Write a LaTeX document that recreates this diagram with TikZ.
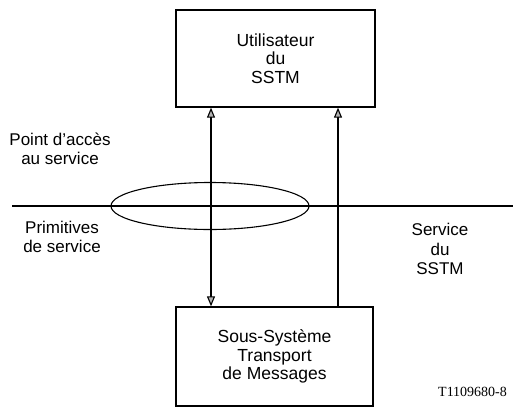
\documentclass[tikz,border=0pt]{standalone}
\usepackage{fontspec}
\setmainfont{Liberation Sans}
\newfontfamily\serifid{Liberation Serif}
\usetikzlibrary{arrows.meta,shapes.geometric}
\begin{document}
\begin{tikzpicture}[x=1pt,y=-1pt,
  box/.style={draw,line width=1.3pt,minimum width=199pt,minimum height=97pt,inner sep=0pt,align=center,
    font=\fontsize{17.5}{18.6}\selectfont},
  lbl/.style={align=center,inner sep=0pt,font=\fontsize{17}{19.5}\selectfont},
  tip/.style={line width=1.1pt},
  hd/.tip={Triangle[length=10pt,width=8pt,fill=gray!60,line width=1.1pt]}]
\useasboundingbox (0,0) rectangle (513,410);
\node[box] (usr) at (275.5,58.5) {Utilisateur\\du\\SSTM};
\node[box,minimum width=197pt,minimum height=99pt] (stm) at (274.5,356.5) {Sous-Syst\`eme\\Transport\\de Messages};
\coordinate (lw) at (12,206);
\coordinate (le) at (513,206);
\draw[line width=1.1pt] (lw) -- (le);
\node[draw,ellipse,line width=1.1pt,minimum width=198pt,minimum height=47pt,inner sep=0pt] (pas) at (210,206) {};
\draw[tip,{hd}-{hd}] (usr.south -| 211,0) -- (stm.north -| 211,0);
\draw[tip,-{hd}] (stm.north -| 338,0) -- (usr.south -| 338,0);
\node[lbl] (pa) at (60,149) {Point d'acc\`es\\au service};
\node[lbl] (ps) at (62,237) {Primitives\\de service};
\node[lbl] (ss) at (440,249) {Service\\du\\SSTM};
\node[anchor=west,inner sep=0pt,font=\serifid\fontsize{14}{14}\selectfont] (ref) at (438,392) {T1109680-8};
\end{tikzpicture}
\end{document}
